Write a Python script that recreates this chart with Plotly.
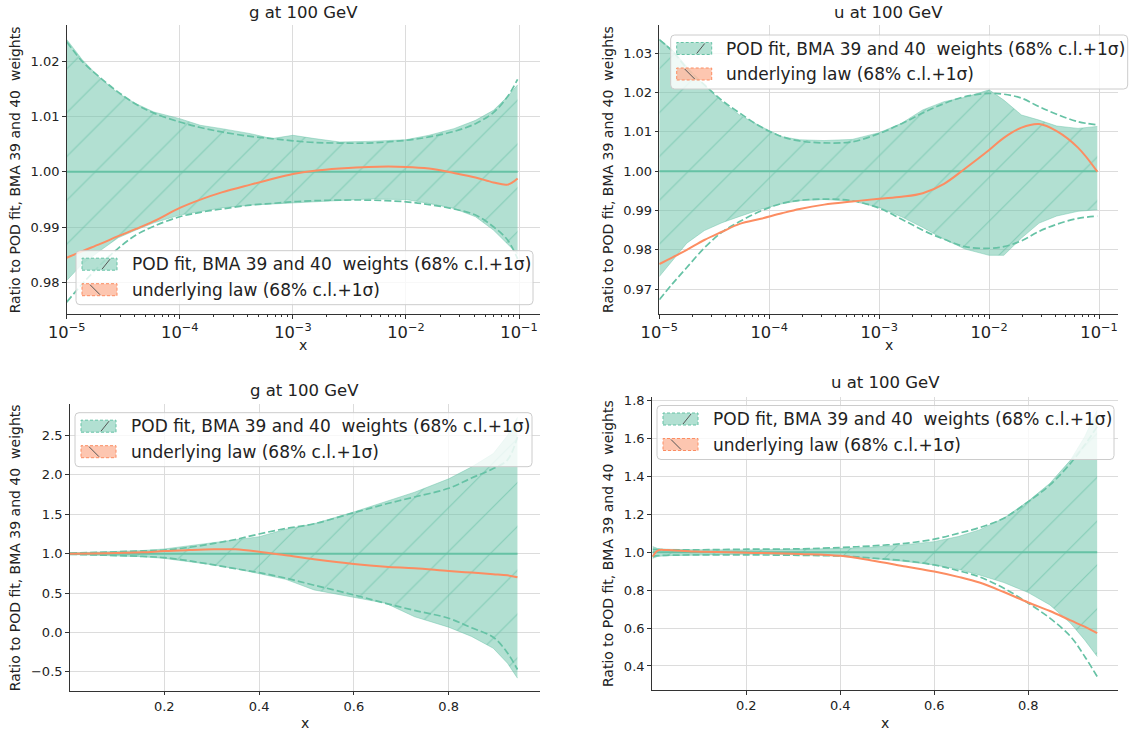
import plotly.graph_objects as go

FIG_W, FIG_H = 1138, 733
GREEN = "#66c2a5"
ORANGE = "#fc8d62"
FONT = "DejaVu Sans"

# ---------------- g at 100 GeV, small-x (log scale) ----------------
g_small_x = [1e-5, 1.377e-5, 1.98e-5, 2.85e-5, 4.10e-5, 5.90e-5, 1e-4, 1.52e-4, 2.35e-4,
             4.21e-4, 6.52e-4, 1e-3, 1.56e-3, 2.59e-3, 4.65e-3, 1e-2, 1.6e-2, 2.66e-2,
             4.12e-2, 5.93e-2, 7.92e-2, 9.7e-2]
g_small_band_hi = [1.0239, 1.0202, 1.0169, 1.0142, 1.0123, 1.0108, 1.0096, 1.0084, 1.0078,
                   1.0069, 1.0060, 1.0066, 1.0060, 1.0054, 1.0055, 1.0058, 1.0066, 1.0078,
                   1.0093, 1.0111, 1.0136, 1.0157]
g_small_band_lo = [0.9804, 0.9834, 0.9858, 0.9881, 0.9895, 0.9908, 0.9922, 0.9929, 0.9935,
                   0.9940, 0.9942, 0.9945, 0.9947, 0.9949, 0.9951, 0.9950, 0.9943, 0.9934,
                   0.9919, 0.9895, 0.9870, 0.9852]
g_small_sigma_hi = [1.0235, 1.0199, 1.0170, 1.0144, 1.0122, 1.0106, 1.0090, 1.0080, 1.0072,
                    1.0064, 1.0060, 1.0056, 1.0053, 1.0052, 1.0052, 1.0057, 1.0063, 1.0073,
                    1.0087, 1.0107, 1.0136, 1.0167]
g_small_sigma_lo = [0.9765, 0.9798, 0.9832, 0.9862, 0.9886, 0.9902, 0.9919, 0.9927, 0.9933,
                    0.9940, 0.9943, 0.9946, 0.9948, 0.9949, 0.9949, 0.9946, 0.9941, 0.9933,
                    0.9922, 0.9901, 0.9877, 0.9843]
g_small_central = [1.0] * len(g_small_x)
g_small_law = [0.9845, 0.9857, 0.9870, 0.9884, 0.9897, 0.9911, 0.9935, 0.9950, 0.9963,
               0.9977, 0.9987, 0.9996, 1.0002, 1.0006, 1.0009, 1.0009, 1.0006, 0.9998,
               0.9990, 0.9981, 0.9977, 0.9988]

# ---------------- u at 100 GeV, small-x (log scale) ----------------
u_small_x = [1e-5, 1.32e-5, 1.78e-5, 2.57e-5, 3.72e-5, 5.38e-5, 8.38e-5, 1.30e-4, 1.89e-4,
             3.16e-4, 5.70e-4, 1e-3, 1.60e-3, 2.49e-3, 3.89e-3, 6.05e-3, 1e-2, 1.36e-2,
             1.97e-2, 2.85e-2, 4.12e-2, 6.43e-2, 9.64e-2]
u_small_band_hi = [1.0336, 1.0308, 1.0266, 1.0219, 1.0177, 1.0143, 1.0114, 1.0088, 1.0080,
                   1.0078, 1.0081, 1.0098, 1.0122, 1.0156, 1.0177, 1.0188, 1.0207, 1.0181,
                   1.0143, 1.0130, 1.0115, 1.0109, 1.0114]
u_small_band_lo = [0.9732, 0.9774, 0.9817, 0.9849, 0.9869, 0.9885, 0.9903, 0.9917, 0.9925,
                   0.9928, 0.9924, 0.9908, 0.9884, 0.9857, 0.9827, 0.9802, 0.9786, 0.9786,
                   0.9830, 0.9868, 0.9886, 0.9898, 0.9902]
u_small_sigma_hi = [1.0335, 1.0305, 1.0262, 1.0220, 1.0180, 1.0148, 1.0113, 1.0088, 1.0077,
                    1.0072, 1.0075, 1.0096, 1.0121, 1.0148, 1.0172, 1.0190, 1.0198, 1.0196,
                    1.0186, 1.0164, 1.0145, 1.0126, 1.0118]
u_small_sigma_lo = [0.9673, 0.9714, 0.9755, 0.9805, 0.9845, 0.9872, 0.9899, 0.9918, 0.9926,
                    0.9929, 0.9925, 0.9906, 0.9878, 0.9850, 0.9827, 0.9808, 0.9804, 0.9808,
                    0.9823, 0.9847, 0.9865, 0.9880, 0.9886]
u_small_central = [1.0] * len(u_small_x)
u_small_law = [0.9764, 0.9781, 0.9800, 0.9825, 0.9846, 0.9866, 0.9879, 0.9893, 0.9904,
               0.9915, 0.9923, 0.9930, 0.9935, 0.9944, 0.9968, 1.0007, 1.0054, 1.0085,
               1.0111, 1.0120, 1.0102, 1.0060, 0.9999]

# ---------------- g at 100 GeV, large-x (linear scale) ----------------
g_large_x = [0.001, 0.0785, 0.154, 0.2, 0.252, 0.305, 0.35, 0.4, 0.456, 0.516, 0.6, 0.667,
             0.728, 0.8, 0.848, 0.894, 0.924, 0.945]
g_large_band_hi = [1.008, 1.025, 1.04, 1.06, 1.10, 1.15, 1.18, 1.215, 1.31, 1.38, 1.53, 1.66,
                   1.78, 1.95, 2.10, 2.27, 2.50, 2.73]
g_large_band_lo = [0.99, 0.975, 0.962, 0.94, 0.90, 0.856, 0.81, 0.75, 0.675, 0.54, 0.443,
                   0.371, 0.20, 0.067, -0.05, -0.20, -0.39, -0.58]
g_large_sigma_hi = [1.008, 1.02, 1.035, 1.046, 1.08, 1.13, 1.18, 1.25, 1.32, 1.38, 1.52, 1.63,
                    1.72, 1.83, 1.96, 2.08, 2.19, 2.48]
g_large_sigma_lo = [0.992, 0.98, 0.965, 0.95, 0.91, 0.857, 0.81, 0.76, 0.69, 0.60, 0.477,
                    0.37, 0.28, 0.18, 0.06, -0.06, -0.26, -0.47]
g_large_central = [1.0] * len(g_large_x)
g_large_law = [1.0, 1.004, 1.017, 1.034, 1.046, 1.055, 1.055, 1.025, 0.98, 0.93, 0.87, 0.835,
               0.815, 0.78, 0.76, 0.74, 0.725, 0.70]

# ---------------- u at 100 GeV, large-x (linear scale) ----------------
u_large_x = [0.001, 0.0112, 0.030, 0.0898, 0.202, 0.314, 0.400, 0.464, 0.539, 0.600, 0.651,
             0.696, 0.748, 0.800, 0.846, 0.890, 0.920, 0.9465]
u_large_band_hi = [1.03, 1.02, 1.016, 1.013, 1.012, 1.016, 1.02, 1.026, 1.04, 1.056, 1.083,
                   1.118, 1.18, 1.27, 1.364, 1.487, 1.61, 1.75]
u_large_band_lo = [0.968, 0.978, 0.982, 0.986, 0.99, 0.987, 0.982, 0.968, 0.951, 0.933, 0.91,
                   0.88, 0.84, 0.787, 0.722, 0.625, 0.537, 0.45]
u_large_sigma_hi = [1.015, 1.014, 1.013, 1.013, 1.016, 1.018, 1.025, 1.033, 1.047, 1.069, 1.10,
                    1.13, 1.18, 1.267, 1.355, 1.47, 1.566, 1.663]
u_large_sigma_lo = [0.977, 0.982, 0.984, 0.986, 0.986, 0.984, 0.98, 0.97, 0.955, 0.933, 0.903,
                    0.87, 0.81, 0.731, 0.652, 0.555, 0.45, 0.344]
u_large_central = [1.0] * len(u_large_x)
u_large_law = [0.977, 1.009, 1.012, 1.004, 0.998, 0.991, 0.981, 0.958, 0.925, 0.898, 0.870,
               0.840, 0.790, 0.735, 0.690, 0.640, 0.607, 0.573]

panel_titles = ["g at 100 GeV", "u at 100 GeV", "g at 100 GeV", "u at 100 GeV"]
legend_labels = ["POD fit, BMA 39 and 40  weights (68% c.l.+1σ)",
                 "underlying law (68% c.l.+1σ)"]
y_title = "Ratio to POD fit, BMA 39 and 40  weights"
x_title = "x"

# ---------------- layout geometry (pixels) ----------------
panels = [
    dict(key="", x0=66.7, x1=540.0, y0=25.0, y1=314.3, log=True,
         xr=[-5, -0.815], yr=[0.9743, 1.0265], dy=0.01, fmt=".2f",
         xlab_y=344.5, ylab_dx=52, title_y=12.7, leg=(76, 250.7)),
    dict(key="2", x0=659.3, x1=1118.3, y0=25.0, y1=314.3, log=True,
         xr=[-5, -0.825], yr=[0.9636, 1.0372], dy=0.01, fmt=".2f",
         xlab_y=344.5, ylab_dx=52, title_y=12.3, leg=(670.7, 35)),
    dict(key="3", x0=69.7, x1=540.0, y0=404.3, y1=690.7, log=False,
         xr=[0.0004, 0.9926], yr=[-0.739, 2.896], dy=0.5, fmt=".1f",
         xlab_y=723, ylab_dx=55, title_y=390.7, leg=(75, 412.7)),
    dict(key="4", x0=651.7, x1=1118.3, y0=396.7, y1=690.0, log=False,
         xr=[-0.0013, 0.9915], yr=[0.273, 1.821], dy=0.2, fmt=".1f",
         xlab_y=723, ylab_dx=43, title_y=382.7, leg=(657, 405.5)),
]

series = [
    (g_small_x, g_small_band_lo, g_small_band_hi, g_small_sigma_lo, g_small_sigma_hi,
     g_small_central, g_small_law),
    (u_small_x, u_small_band_lo, u_small_band_hi, u_small_sigma_lo, u_small_sigma_hi,
     u_small_central, u_small_law),
    (g_large_x, g_large_band_lo, g_large_band_hi, g_large_sigma_lo, g_large_sigma_hi,
     g_large_central, g_large_law),
    (u_large_x, u_large_band_lo, u_large_band_hi, u_large_sigma_lo, u_large_sigma_hi,
     u_large_central, u_large_law),
]


def px(v):
    return v / FIG_W


def py(v):
    return 1 - v / FIG_H


fig = go.Figure()

for p, (xs, lo, hi, slo, shi, mid, law) in zip(panels, series):
    xa, ya = "x" + p["key"], "y" + p["key"]
    common = dict(xaxis=xa, yaxis=ya, showlegend=False, hoverinfo="skip")
    # 68% c.l. band, hatched
    fig.add_trace(go.Scatter(x=xs, y=lo, mode="lines",
                             line=dict(color="rgba(102,194,165,0.55)", width=0.8), **common))
    fig.add_trace(go.Scatter(x=xs, y=hi, mode="lines", fill="tonexty",
                             fillcolor="rgba(102,194,165,0.5)",
                             fillpattern=dict(shape="/", fgcolor=GREEN, fgopacity=0.6,
                                              size=31, solidity=0.035, fillmode="overlay"),
                             line=dict(color="rgba(102,194,165,0.55)", width=0.8), **common))
    # 1-sigma envelope
    for ys in (shi, slo):
        fig.add_trace(go.Scatter(x=xs, y=ys, mode="lines", line_shape="spline",
                                 line=dict(color=GREEN, width=1.7, dash="7px,3px"), **common))
    # central value
    fig.add_trace(go.Scatter(x=xs, y=mid, mode="lines",
                             line=dict(color=GREEN, width=2), **common))
    # underlying law
    fig.add_trace(go.Scatter(x=xs, y=law, mode="lines", line_shape="spline",
                             line=dict(color=ORANGE, width=2), **common))

axis_common = dict(showline=True, linecolor="#333333", linewidth=1.1, ticks="outside",
                   ticklen=3.5, tickwidth=1, tickcolor="#333333", showgrid=True,
                   gridcolor="#dcdcdc", gridwidth=1, zeroline=False, mirror=False,
                   automargin=False,
                   tickfont=dict(family=FONT, size=13, color="#222222"))

layout = dict(width=FIG_W, height=FIG_H, autosize=False,
              margin=dict(l=0, r=0, t=0, b=0, pad=0),
              paper_bgcolor="white", plot_bgcolor="white",
              font=dict(family=FONT, color="#222222"),
              showlegend=False, shapes=[], annotations=[])

for p in panels:
    k = p["key"]
    xa = dict(axis_common, domain=[px(p["x0"]), px(p["x1"])], range=p["xr"],
              anchor="y" + k)
    if p["log"]:
        xa.update(type="log", dtick=1, exponentformat="power",
                  minor=dict(ticks="outside", ticklen=2, tickcolor="#333333",
                             dtick="D1", showgrid=False))
    else:
        xa.update(tickvals=[0.2, 0.4, 0.6, 0.8], tickformat=".1f")
    ya = dict(axis_common, domain=[py(p["y1"]), py(p["y0"])], range=p["yr"],
              anchor="x" + k, dtick=p["dy"], tick0=1.0, tickformat=p["fmt"])
    layout["xaxis" + k] = xa
    layout["yaxis" + k] = ya

for i, p in enumerate(panels):
    cx = (p["x0"] + p["x1"]) / 2
    cy = (p["y0"] + p["y1"]) / 2
    ann = layout["annotations"]
    ann.append(dict(text=panel_titles[i], xref="paper", yref="paper", x=px(cx),
                    y=py(p["title_y"]), xanchor="center", yanchor="middle",
                    showarrow=False, font=dict(family=FONT, size=16.5, color="#222222")))
    ann.append(dict(text=x_title, xref="paper", yref="paper", x=px(cx),
                    y=py(p["xlab_y"]), xanchor="center", yanchor="middle",
                    showarrow=False, font=dict(family=FONT, size=14, color="#222222")))
    ann.append(dict(text=y_title, xref="paper", yref="paper", x=px(p["x0"] - p["ylab_dx"]),
                    y=py(cy), xanchor="center", yanchor="middle", textangle=-90,
                    showarrow=False, font=dict(family=FONT, size=14, color="#222222")))

    # legend box
    L, T = p["leg"]
    R, B = L + 457, T + 54
    r = 4
    path = (f"M {px(L + r)},{py(T)} L {px(R - r)},{py(T)} Q {px(R)},{py(T)} {px(R)},{py(T + r)} "
            f"L {px(R)},{py(B - r)} Q {px(R)},{py(B)} {px(R - r)},{py(B)} "
            f"L {px(L + r)},{py(B)} Q {px(L)},{py(B)} {px(L)},{py(B - r)} "
            f"L {px(L)},{py(T + r)} Q {px(L)},{py(T)} {px(L + r)},{py(T)} Z")
    layout["shapes"].append(dict(type="path", path=path, xref="paper", yref="paper",
                                 fillcolor="rgba(255,255,255,0.8)",
                                 line=dict(color="#cccccc", width=1), layer="above"))
    rows = [T + 13.5, T + 39]
    swatch = [("rgba(102,194,165,0.5)", GREEN, (L + 26, 5, L + 34, -5)),
              ("rgba(252,141,98,0.5)", ORANGE, (L + 14, -5, L + 24, 5))]
    for (fillc, edge, hatch), ry, label in zip(swatch, rows, legend_labels):
        layout["shapes"].append(dict(type="rect", xref="paper", yref="paper",
                                     x0=px(L + 6), x1=px(L + 41), y0=py(ry + 6), y1=py(ry - 6),
                                     fillcolor=fillc, line=dict(color=edge, width=1, dash="3px,2px"),
                                     layer="above"))
        hx0, hdy0, hx1, hdy1 = hatch
        layout["shapes"].append(dict(type="line", xref="paper", yref="paper",
                                     x0=px(hx0), y0=py(ry + hdy0), x1=px(hx1), y1=py(ry + hdy1),
                                     line=dict(color="#555555", width=1), layer="above"))
        ann.append(dict(text=label, xref="paper", yref="paper", x=px(L + 53.5), y=py(ry),
                        xanchor="left", yanchor="middle", showarrow=False,
                        font=dict(family=FONT, size=17, color="#222222")))

fig.update_layout(**layout)
fig.write_html("out.html", config={"displayModeBar": False})
